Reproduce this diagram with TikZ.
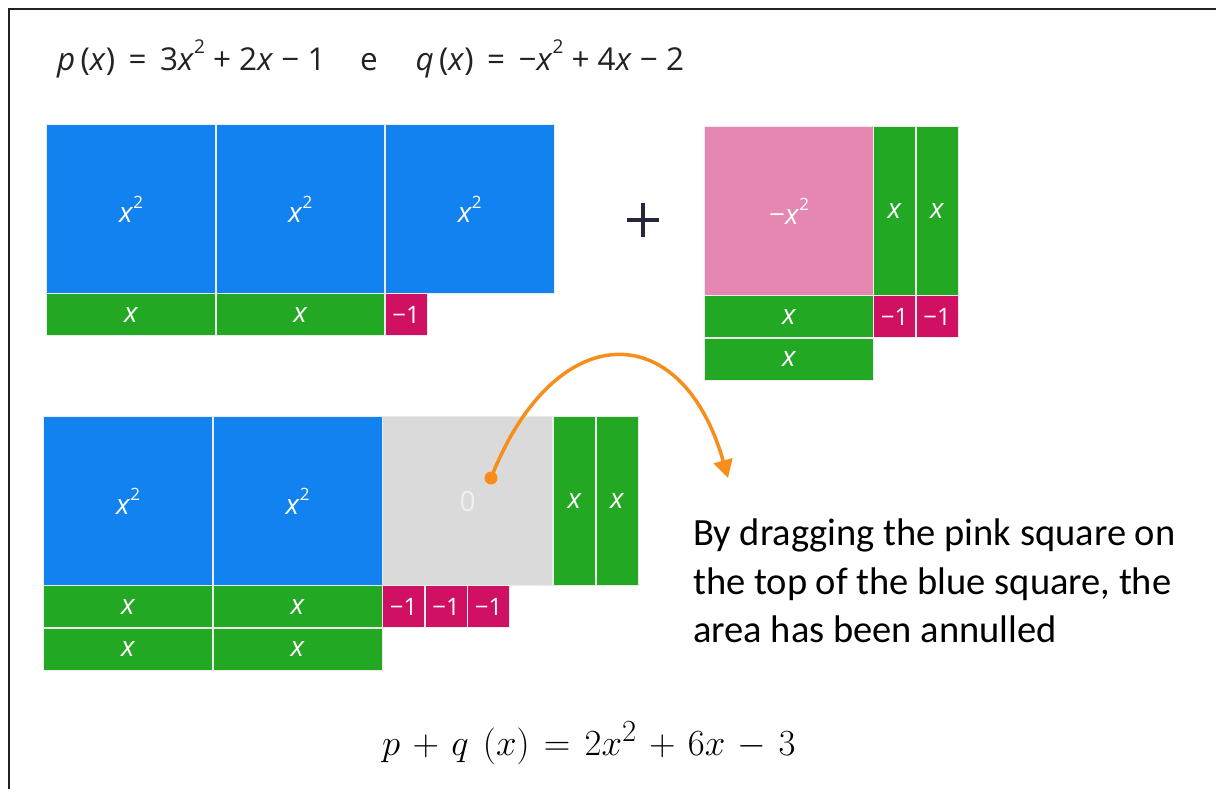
\documentclass[tikz,border=0pt]{standalone}
\usepackage{graphicx}
\usepackage{fontspec}
\setmainfont{Open Sans}
\newfontfamily\capfont{Carlito}
\usetikzlibrary{arrows.meta}
\definecolor{tblue}{HTML}{1182EF}
\definecolor{tgreen}{HTML}{22A822}
\definecolor{tpink}{HTML}{E587B0}
\definecolor{tmag}{HTML}{D01163}
\definecolor{tgray}{HTML}{DADADA}
\definecolor{torange}{HTML}{F98D1B}
\definecolor{frame}{HTML}{222222}
\definecolor{plusc}{HTML}{25253F}
\newcommand\vx{\textit{x}}
\newcommand\tsq{\raisebox{0.5em}{\fontsize{17}{17}\selectfont 2}}
\newcommand\hsq{\raisebox{0.55em}{\fontsize{19}{19}\selectfont 2}}
\tikzset{
  tile/.style={draw=white!92!black, line width=1.2pt, anchor=north west, inner sep=0pt,
    text=white, font=\fontsize{28}{28}\selectfont},
  sqtile/.style={tile, minimum width=169pt, minimum height=169pt},
  blu/.style={sqtile, fill=tblue},
  pnk/.style={sqtile, fill=tpink},
  gry/.style={tile, minimum width=170pt, minimum height=169pt, fill=tgray, text=white!94!black},
  hx/.style={tile, fill=tgreen, minimum width=169pt, minimum height=42pt},
  vx/.style={tile, fill=tgreen, minimum width=42pt, minimum height=169pt},
  one/.style={tile, fill=tmag, minimum width=42pt, minimum height=42pt, font=\fontsize{24}{24}\selectfont},
  captext/.style={anchor=base west, inner sep=0pt, font=\capfont\fontsize{38.5}{38.5}\selectfont, text=black},
}
\begin{document}
\begin{tikzpicture}[x=1pt, y=-1pt]
\useasboundingbox (0,0) rectangle (1216,789);
\fill[white] (0,0) rectangle (1216,789);
% frame (top and left edges)
\coordinate (fr1) at (1216,9);
\coordinate (fr2) at (9,9);
\coordinate (fr3) at (9,789);
\draw[frame, line width=2pt] (fr1) -- (fr2) -- (fr3);

% title
\node[anchor=base west, inner sep=0pt, font=\fontsize{31.5}{31.5}\selectfont, text=frame] (title) at (57,71)
  {\textit{p}\,(\vx) \,=\, 3\vx\hsq{} + 2\vx{} − 1\hspace{1.1em}e\hspace{1.2em}\textit{q}\,(\vx) \,=\, −\vx\hsq{} + 4\vx{} − 2};

% top-left: p(x)
\node[blu] (p1) at (46,124) {\vx\tsq};
\node[blu] (p2) at (215.3,124) {\vx\tsq};
\node[blu] (p3) at (384.6,124) {\vx\tsq};
\node[hx] (px1) at (46,293) {\vx};
\node[hx] (px2) at (215.3,293) {\vx};
\node[one] (pc) at (384.6,293) {−1};

% plus
\coordinate (pl) at (643,220);
\draw[plusc, line width=4.5pt] ([xshift=-16pt]pl) -- ([xshift=16pt]pl);
\draw[plusc, line width=4.5pt] ([yshift=-17pt]pl) -- ([yshift=17pt]pl);

% top-right: q(x)
\node[pnk] (q1) at (704,126) {−\vx\tsq};
\node[vx] (qv1) at (873,126) {\vx};
\node[vx] (qv2) at (915.5,126) {\vx};
\node[hx] (qh1) at (704,295) {\vx};
\node[hx] (qh2) at (704,337.5) {\vx};
\node[one] (qc1) at (873,295) {−1};
\node[one] (qc2) at (915.5,295) {−1};

% bottom: sum
\node[blu] (s1) at (43,416) {\vx\tsq};
\node[blu] (s2) at (212.5,416) {\vx\tsq};
\node[gry] (s0) at (382,416) {0};
\node[vx] (sv1) at (553,416) {\vx};
\node[vx] (sv2) at (595.5,416) {\vx};
\node[hx] (sh1) at (43,585) {\vx};
\node[hx] (sh2) at (212.5,585) {\vx};
\node[hx] (sh3) at (43,627.5) {\vx};
\node[hx] (sh4) at (212.5,627.5) {\vx};
\node[one] (sc1) at (382,585) {−1};
\node[one] (sc2) at (424.5,585) {−1};
\node[one] (sc3) at (467,585) {−1};

% orange arrow
\node[circle, fill=torange, minimum size=13pt, inner sep=0pt] (dot) at (491,478) {};
\coordinate (tip) at (728,478);
\draw[torange, line width=3.5pt, -{Triangle[length=18pt, width=19pt]}]
  (dot.center) .. controls (555,316) and (682,316) .. (tip);

% caption
\node[captext] (c1) at (693,545) {By dragging the pink square on};
\node[captext] (c2) at (693,594) {the top of the blue square, the};
\node[captext] (c3) at (693,642) {area has been annulled};

% result
\node[anchor=base west, inner sep=0pt, font=\fontsize{24.88}{24.88}\selectfont] (res) at (382,755)
  {\scalebox{1.48}{\medmuskip=6mu \thickmuskip=7mu $p+q\;(x)=2x^2+6x-3$}};
\end{tikzpicture}
\end{document}
